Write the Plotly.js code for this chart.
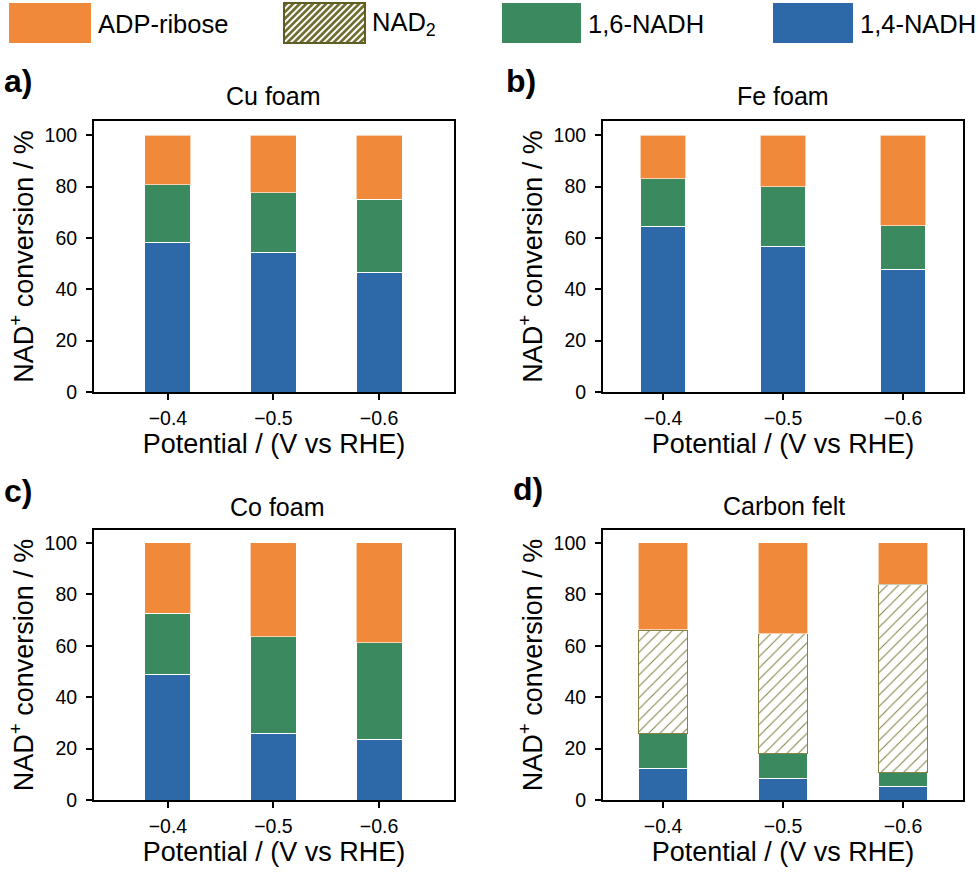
<!DOCTYPE html>
<html>
<head>
<meta charset="utf-8">
<script src="https://cdn.plot.ly/plotly-3.0.1.min.js"></script>
<style>html,body{margin:0;padding:0;background:#fff;}#chart{width:980px;height:872px;}</style>
</head>
<body>
<div id="chart"></div>
<script>
// ---- data (percent of NAD+ conversion, stacked segments) ----
var potentials = ['\u22120.4', '\u22120.5', '\u22120.6'];
var seriesNames = ['ADP-ribose', 'NAD<sub>2</sub>', '1,6-NADH', '1,4-NADH'];
var panelTitles = ['Cu foam', 'Fe foam', 'Co foam', 'Carbon felt'];
var panelLetters = ['a)', 'b)', 'c)', 'd)'];

var cuNADH14 = [58.1, 54.5, 46.4];
var cuNADH16 = [22.5, 23.1, 28.6];
var cuADP    = [19.4, 22.4, 25.0];

var feNADH14 = [64.4, 56.8, 47.6];
var feNADH16 = [18.6, 23.2, 17.2];
var feADP    = [17.0, 20.0, 35.2];

var coNADH14 = [49.0, 25.7, 23.4];
var coNADH16 = [23.7, 37.7, 37.8];
var coADP    = [27.3, 36.6, 38.8];

var cfNADH14 = [12.4, 8.4, 5.2];
var cfNADH16 = [13.5, 9.7, 5.5];
var cfNAD2   = [40.3, 46.6, 73.3];
var cfADP    = [33.8, 35.3, 16.0];

var yTicks = [0, 20, 40, 60, 80, 100];

// ---- styles ----
var W = 980, H = 872;
var FONT = 'Liberation Sans, Arial, Helvetica, sans-serif';
var cOrange = '#f08a3a', cGreen = '#3b8a5f', cBlue = '#2d68a9';
var cOlive = '#858244', cOliveDark = '#5f5d24';

function px(x) { return x / W; }
function py(y) { return 1 - y / H; }

var panels = [
  {xa: 'x',  ya: 'y',  d14: cuNADH14, d16: cuNADH16, adp: cuADP, w: 0.436},
  {xa: 'x2', ya: 'y2', d14: feNADH14, d16: feNADH16, adp: feADP, w: 0.383},
  {xa: 'x3', ya: 'y3', d14: coNADH14, d16: coNADH16, adp: coADP, w: 0.436},
  {xa: 'x4', ya: 'y4', d14: cfNADH14, d16: cfNADH16, nad2: cfNAD2, adp: cfADP, w: 0.41}
];

var traces = [];
panels.forEach(function (p) {
  traces.push({type: 'bar', x: potentials, y: p.d14, xaxis: p.xa, yaxis: p.ya, name: seriesNames[3],
    width: p.w, marker: {color: cBlue, line: {color: '#ffffff', width: 1}}, showlegend: false, hoverinfo: 'y+name'});
  traces.push({type: 'bar', x: potentials, y: p.d16, xaxis: p.xa, yaxis: p.ya, name: seriesNames[2],
    width: p.w, marker: {color: cGreen, line: {color: '#ffffff', width: 1}}, showlegend: false, hoverinfo: 'y+name'});
  if (p.nad2) {
    traces.push({type: 'bar', x: potentials, y: p.nad2, xaxis: p.xa, yaxis: p.ya, name: seriesNames[1],
      width: p.w, marker: {color: '#ffffff', line: {color: cOlive, width: 1.6},
        pattern: {shape: '/', bgcolor: '#ffffff', fgcolor: cOlive, size: 8, solidity: 0.13}},
      showlegend: false, hoverinfo: 'y+name'});
  }
  traces.push({type: 'bar', x: potentials, y: p.adp, xaxis: p.xa, yaxis: p.ya, name: seriesNames[0],
    width: p.w, marker: {color: cOrange, line: {color: '#ffffff', width: 0.6}}, showlegend: false, hoverinfo: 'y+name'});
});

function xAxis(domain, range, anchor) {
  return {domain: domain, range: range, anchor: anchor, type: 'category',
    showline: true, linecolor: '#000', linewidth: 2, mirror: true,
    ticks: 'outside', ticklen: 6, tickwidth: 2, tickcolor: '#000', ticklabelstandoff: 2,
    showgrid: false, zeroline: false, fixedrange: true,
    tickfont: {family: FONT, size: 19.5, color: '#000'},
    title: {text: 'Potential / (V vs RHE)', font: {family: FONT, size: 27, color: '#000'}, standoff: 5}};
}
function yAxis(domain, range, anchor) {
  return {domain: domain, range: range, anchor: anchor,
    showline: true, linecolor: '#000', linewidth: 2, mirror: true,
    ticks: 'outside', ticklen: 6, tickwidth: 2, tickcolor: '#000', ticklabelstandoff: 5,
    tickvals: yTicks, showgrid: false, zeroline: false, fixedrange: true,
    tickfont: {family: FONT, size: 19.5, color: '#000'},
    title: {text: 'NAD<sup>+</sup> conversion / %', font: {family: FONT, size: 27, color: '#000'}, standoff: 3}};
}

var dxL = [px(94), px(454)], dxR = [px(603), px(963)];
var dyT = [py(392), py(121)], dyB = [py(800), py(530)];
var rL = [-0.70, 2.71], rR = [-0.5, 2.5];

var annotations = [];
var titlePos = [[273, 96], [783, 96], [277, 507], [784, 506]];
var letterPos = [[2, 81], [504, 81], [2, 491], [511, 489]];
for (var i = 0; i < 4; i++) {
  annotations.push({xref: 'paper', yref: 'paper', x: px(titlePos[i][0]), y: py(titlePos[i][1]),
    xanchor: 'center', yanchor: 'middle', showarrow: false, text: panelTitles[i],
    font: {family: FONT, size: 25, color: '#000'}});
  annotations.push({xref: 'paper', yref: 'paper', x: px(letterPos[i][0]), y: py(letterPos[i][1]),
    xanchor: 'left', yanchor: 'middle', showarrow: false, text: '<b>' + panelLetters[i] + '</b>',
    font: {family: FONT, size: 32, color: '#000'}});
}

// ---- legend (drawn as shapes + text along the top) ----
var legendBoxes = [
  {x0: 9, x1: 91, label: seriesNames[0], fill: cOrange},
  {x0: 284, x1: 365, label: seriesNames[1], fill: 'hatch'},
  {x0: 502, x1: 581, label: seriesNames[2], fill: cGreen},
  {x0: 773, x1: 853, label: seriesNames[3], fill: cBlue}
];
var ly0 = 3, ly1 = 43;
var shapes = [];
legendBoxes.forEach(function (b) {
  if (b.fill === 'hatch') {
    shapes.push({type: 'rect', xref: 'paper', yref: 'paper', x0: px(b.x0), x1: px(b.x1), y0: py(ly1), y1: py(ly0),
      fillcolor: '#ffffff', line: {width: 0}});
    // diagonal "/" hatch lines clipped to the box: y = c - x (pixel space)
    var step = 6.6;
    for (var c = b.x0 + ly0 + step / 2; c < b.x1 + ly1; c += step) {
      var pts = [];
      var xa = c - ly1; if (xa >= b.x0 && xa <= b.x1) pts.push([xa, ly1]);
      var xb = c - ly0; if (xb >= b.x0 && xb <= b.x1) pts.push([xb, ly0]);
      var ya = c - b.x0; if (ya > ly0 && ya < ly1) pts.push([b.x0, ya]);
      var yb = c - b.x1; if (yb > ly0 && yb < ly1) pts.push([b.x1, yb]);
      if (pts.length >= 2) {
        shapes.push({type: 'line', xref: 'paper', yref: 'paper',
          x0: px(pts[0][0]), y0: py(pts[0][1]), x1: px(pts[1][0]), y1: py(pts[1][1]),
          line: {color: '#6f6d30', width: 2.6}});
      }
    }
    shapes.push({type: 'rect', xref: 'paper', yref: 'paper', x0: px(b.x0), x1: px(b.x1), y0: py(ly1), y1: py(ly0),
      fillcolor: 'rgba(0,0,0,0)', line: {color: cOliveDark, width: 2}});
  } else {
    shapes.push({type: 'rect', xref: 'paper', yref: 'paper', x0: px(b.x0), x1: px(b.x1), y0: py(ly1), y1: py(ly0),
      fillcolor: b.fill, line: {width: 0}});
  }
  annotations.push({xref: 'paper', yref: 'paper', x: px(b.x1 + 5), y: py(24), xanchor: 'left', yanchor: 'middle',
    showarrow: false, text: b.label, font: {family: FONT, size: 25.5, color: '#000'}});
});

var layout = {
  width: W, height: H,
  margin: {l: 0, r: 0, t: 0, b: 0, pad: 0},
  paper_bgcolor: '#ffffff', plot_bgcolor: '#ffffff',
  barmode: 'stack',
  showlegend: false,
  font: {family: FONT, color: '#000'},
  xaxis: xAxis(dxL, rL, 'y'),   yaxis: yAxis(dyT, [0, 105.5], 'x'),
  xaxis2: xAxis(dxR, rR, 'y2'), yaxis2: yAxis(dyT, [0, 105.5], 'x2'),
  xaxis3: xAxis(dxL, rL, 'y3'), yaxis3: yAxis(dyB, [0, 105], 'x3'),
  xaxis4: xAxis(dxR, rR, 'y4'), yaxis4: yAxis(dyB, [0, 105], 'x4'),
  annotations: annotations,
  shapes: shapes
};

Plotly.newPlot('chart', traces, layout, {displayModeBar: false, staticPlot: true});
</script>
</body>
</html>
